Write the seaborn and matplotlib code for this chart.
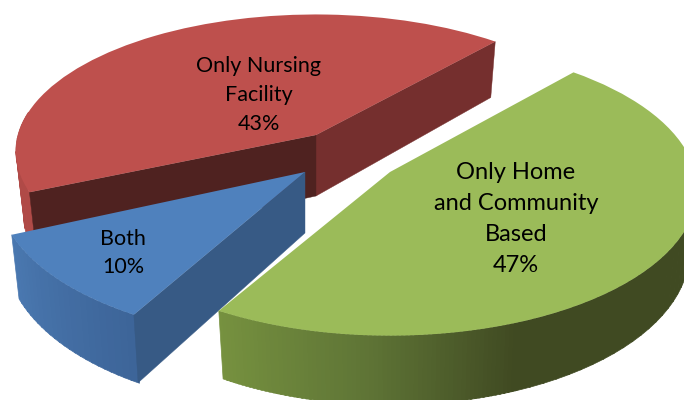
import numpy as np
import seaborn as sns
from matplotlib import pyplot as plt
from matplotlib.transforms import Transform

labels = ['Only Nursing\nFacility\n43%', 'Both\n10%', 'Only Home\nand Community\nBased\n47%']
shares = [43, 10, 47]

top_colors = ['#BE504D', '#4F81BD', '#9BBB59']
START = 49

# tip of each slice on screen and its half axes, pixels
tips = [(316, 135), (305, 172), (390, 172)]
axes_px = [(298, 135), (305, 148), (305, 144)]
K, DEPTH = 0.12, 61


def project(u, v, z, tip, size):
    s = 1 / (1 + K * np.asarray(v))
    x = tip[0] + size[0] * np.asarray(u) * s * (1 - 0.025 * np.asarray(z))
    y = tip[1] - size[1] * np.asarray(v) * s + DEPTH * np.asarray(z) * s
    return x, y


class DiskToPixels(Transform):
    input_dims = 2
    output_dims = 2
    is_separable = False
    has_inverse = False

    def __init__(self, tip, size):
        super().__init__()
        self.tip = tip
        self.size = size

    def transform_non_affine(self, values):
        values = np.asarray(values)
        x, y = project(values[:, 0], values[:, 1], 0, self.tip, self.size)
        return np.column_stack([x, y])


def wall(ax, angle, tip, size, color, zorder=2):
    u, v = np.cos(np.radians(angle)), np.sin(np.radians(angle))
    x, y = project([0, u, u, 0], [0, v, v, 0], [0, 0, 1, 1], tip, size)
    ax.fill(x, y, color=color, lw=0.3, zorder=zorder)


def rim(ax, t1, t2, tip, size, palette, zorder=2):
    edges = np.linspace(t1, t2, len(palette) + 1)
    for i, color in enumerate(palette):
        t = np.radians(np.linspace(edges[i], edges[i + 1] + 0.3, 4))
        u = np.r_[np.cos(t), np.cos(t[::-1])]
        v = np.r_[np.sin(t), np.sin(t[::-1])]
        z = np.r_[np.zeros(4), np.ones(4)]
        x, y = project(u, v, z, tip, size)
        ax.fill(x, y, color=color, lw=0.5, zorder=zorder)


sns.set_style('white')
fig, ax = plt.subplots(figsize=(6.84, 4), dpi=100)
fig.subplots_adjust(0, 0, 1, 1)

wedges, _ = ax.pie(shares, colors=top_colors, startangle=START, radius=1,
                   wedgeprops={'linewidth': 0})
ax.set_aspect('auto')
ax.set_xlim(0, 684)
ax.set_ylim(400, 0)
ax.axis('off')

red, blue, green = wedges

# sides first, top faces over them
rim(ax, 170, red.theta2, tips[0], axes_px[0], ['#B04A47'] * 6)
wall(ax, red.theta1, tips[0], axes_px[0], '#752F2E')
wall(ax, red.theta2, tips[0], axes_px[0], '#4F2220')
rim(ax, blue.theta1, blue.theta2, tips[1], axes_px[1],
    sns.blend_palette(['#4A78B0', '#3D6599'], 24), zorder=4)
wall(ax, blue.theta2, tips[1], axes_px[1], '#375A85', zorder=4)
rim(ax, green.theta1, 292, tips[2], axes_px[2],
    sns.blend_palette(['#76913F', '#5F7536', '#404A22'], 70), zorder=6)
rim(ax, 292, 345, tips[2], axes_px[2], ['#404A22'] * 20, zorder=6)

for w, tip, size, z in zip(wedges, tips, axes_px, [3, 5, 7]):
    w.set_transform(DiskToPixels(tip, size) + ax.transData)
    w.set_zorder(z)

ax.text(259, 95, labels[0], ha='center', va='center', fontsize=15.5, color='black',
        family='Lato', linespacing=1.58, zorder=8)
ax.text(123, 253, labels[1], ha='center', va='center', fontsize=15.5, color='black',
        family='Lato', linespacing=1.55, zorder=8)
ax.text(516, 219, labels[2], ha='center', va='center', fontsize=17, color='black',
        family='Lato', linespacing=1.6, zorder=8)

fig.savefig('out.png', dpi=100)
